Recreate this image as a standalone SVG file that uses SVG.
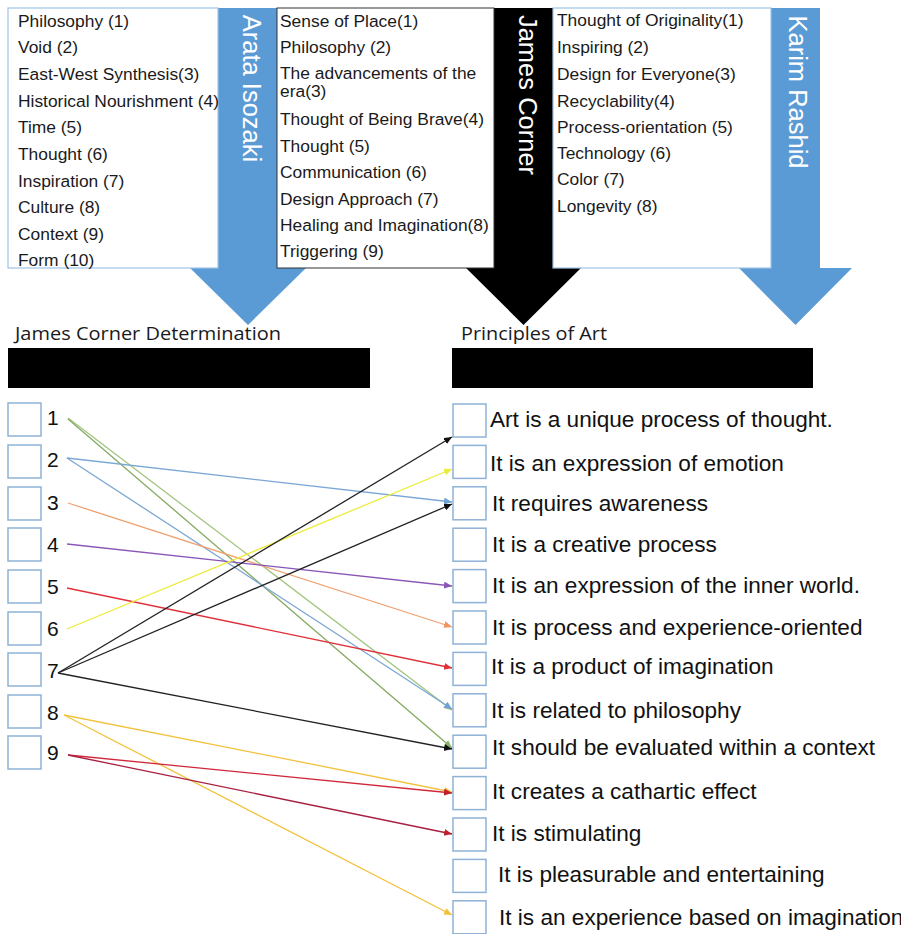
<svg xmlns="http://www.w3.org/2000/svg" width="901" height="934" viewBox="0 0 901 934">
<style>
.bg{fill:#fff}
.arrowB{fill:#5b9bd5}
.arrowK{fill:#000}
.boxL{fill:#fff;stroke:#9dc3e6;stroke-width:1.2}
.boxM{fill:#fff;stroke:#333;stroke-width:1}
.t{font-family:"Liberation Sans",Arial,sans-serif;font-size:17.4px;fill:#1a1a1a}
.vt{font-family:"Liberation Sans",Arial,sans-serif;font-size:25.5px;fill:#fff}
.hd{font-family:"Open Sans","Noto Sans",sans-serif;font-size:18px;fill:#1a1a1a}
.bar{fill:#000}
.cb{fill:#fff;stroke:#8fb2d6;stroke-width:1.5}
.num{font-family:"Liberation Sans",Arial,sans-serif;font-size:21px;fill:#111}
.pt{font-family:"Liberation Sans",Arial,sans-serif;font-size:22.6px;fill:#111}
.c{fill:none;stroke-width:1.3}
</style>
<defs>
<marker id="mGreen" markerUnits="userSpaceOnUse" markerWidth="9" markerHeight="8" refX="8" refY="3.5" orient="auto"><path d="M0,0 L8,3.5 L0,7 z" fill="#8db06a"/></marker>
<marker id="mBlue" markerUnits="userSpaceOnUse" markerWidth="9" markerHeight="8" refX="8" refY="3.5" orient="auto"><path d="M0,0 L8,3.5 L0,7 z" fill="#6fa3d6"/></marker>
<marker id="mOrange" markerUnits="userSpaceOnUse" markerWidth="9" markerHeight="8" refX="8" refY="3.5" orient="auto"><path d="M0,0 L8,3.5 L0,7 z" fill="#ee9460"/></marker>
<marker id="mPurple" markerUnits="userSpaceOnUse" markerWidth="9" markerHeight="8" refX="8" refY="3.5" orient="auto"><path d="M0,0 L8,3.5 L0,7 z" fill="#8a56b8"/></marker>
<marker id="mRed" markerUnits="userSpaceOnUse" markerWidth="9" markerHeight="8" refX="8" refY="3.5" orient="auto"><path d="M0,0 L8,3.5 L0,7 z" fill="#e0303a"/></marker>
<marker id="mYellow" markerUnits="userSpaceOnUse" markerWidth="9" markerHeight="8" refX="8" refY="3.5" orient="auto"><path d="M0,0 L8,3.5 L0,7 z" fill="#ecec3a"/></marker>
<marker id="mBlack" markerUnits="userSpaceOnUse" markerWidth="9" markerHeight="8" refX="8" refY="3.5" orient="auto"><path d="M0,0 L8,3.5 L0,7 z" fill="#111"/></marker>
<marker id="mGold" markerUnits="userSpaceOnUse" markerWidth="9" markerHeight="8" refX="8" refY="3.5" orient="auto"><path d="M0,0 L8,3.5 L0,7 z" fill="#f2c23c"/></marker>
<marker id="mDRed" markerUnits="userSpaceOnUse" markerWidth="9" markerHeight="8" refX="8" refY="3.5" orient="auto"><path d="M0,0 L8,3.5 L0,7 z" fill="#c0202c"/></marker>
</defs>
<rect class="bg" x="0" y="0" width="901" height="934"/>

<!-- Top arrows -->
<g id="arrow-isozaki">
<polygon class="arrowB" points="218,8 278,8 278,268 306,268 248,325 190,268 218,268"/>
<text class="vt" transform="translate(242.5,88.5) rotate(90)" text-anchor="middle">Arata Isozaki</text>
</g>
<g id="arrow-corner">
<polygon class="arrowK" points="494,8 553,8 553,268 581,268 523.5,325 466,268 494,268"/>
<text class="vt" transform="translate(519,95) rotate(90)" text-anchor="middle">James Corner</text>
</g>
<g id="arrow-rashid">
<polygon class="arrowB" points="771,8 820,8 820,268 852,268 795.5,325 739,268 771,268"/>
<text class="vt" transform="translate(788.5,92) rotate(90)" text-anchor="middle">Karim Rashid</text>
</g>

<!-- Top boxes -->
<g id="box-isozaki">
<rect class="boxL" x="8" y="8" width="210" height="260"/>
<text class="t" x="18" y="27">Philosophy (1)</text>
<text class="t" x="18" y="53">Void (2)</text>
<text class="t" x="18" y="80">East-West Synthesis(3)</text>
<text class="t" x="18" y="107">Historical Nourishment (4)</text>
<text class="t" x="18" y="133">Time (5)</text>
<text class="t" x="18" y="160">Thought (6)</text>
<text class="t" x="18" y="187">Inspiration (7)</text>
<text class="t" x="18" y="213">Culture (8)</text>
<text class="t" x="18" y="240">Context (9)</text>
<text class="t" x="18" y="266">Form (10)</text>
</g>
<g id="box-corner">
<rect class="boxM" x="277" y="8" width="217" height="260"/>
<text class="t" x="280" y="27">Sense of Place(1)</text>
<text class="t" x="280" y="53">Philosophy (2)</text>
<text class="t" x="280" y="78.5">The advancements of the</text>
<text class="t" x="280" y="97">era(3)</text>
<text class="t" x="280" y="125">Thought of Being Brave(4)</text>
<text class="t" x="280" y="152">Thought (5)</text>
<text class="t" x="280" y="178">Communication (6)</text>
<text class="t" x="280" y="205">Design Approach (7)</text>
<text class="t" x="280" y="231">Healing and Imagination(8)</text>
<text class="t" x="280" y="257">Triggering (9)</text>
</g>
<g id="box-rashid">
<rect class="boxL" x="553" y="8" width="218" height="260"/>
<text class="t" x="557" y="26">Thought of Originality(1)</text>
<text class="t" x="557" y="53">Inspiring (2)</text>
<text class="t" x="557" y="80">Design for Everyone(3)</text>
<text class="t" x="557" y="107">Recyclability(4)</text>
<text class="t" x="557" y="133">Process-orientation (5)</text>
<text class="t" x="557" y="159">Technology (6)</text>
<text class="t" x="557" y="185">Color (7)</text>
<text class="t" x="557" y="212">Longevity (8)</text>
</g>

<!-- Headings -->
<g id="head-left">
<text class="hd" x="15" y="340" textLength="266" lengthAdjust="spacingAndGlyphs">James Corner Determination</text>
<rect class="bar" x="8" y="348" width="362" height="40"/>
</g>
<g id="head-right">
<text class="hd" x="461" y="340" textLength="146" lengthAdjust="spacingAndGlyphs">Principles of Art</text>
<rect class="bar" x="452" y="348" width="361" height="40"/>
</g>

<!-- Left items -->
<g id="left-1"><rect class="cb" x="8" y="403" width="33" height="33"/><text class="num" x="47" y="425">1</text></g>
<g id="left-2"><rect class="cb" x="8" y="445" width="33" height="33"/><text class="num" x="47" y="467">2</text></g>
<g id="left-3"><rect class="cb" x="8" y="487" width="33" height="33"/><text class="num" x="47" y="510">3</text></g>
<g id="left-4"><rect class="cb" x="8" y="528" width="33" height="33"/><text class="num" x="47" y="552">4</text></g>
<g id="left-5"><rect class="cb" x="8" y="570" width="33" height="33"/><text class="num" x="47" y="594">5</text></g>
<g id="left-6"><rect class="cb" x="8" y="612" width="33" height="33"/><text class="num" x="47" y="636">6</text></g>
<g id="left-7"><rect class="cb" x="8" y="653" width="33" height="33"/><text class="num" x="47" y="678">7</text></g>
<g id="left-8"><rect class="cb" x="8" y="695" width="33" height="33"/><text class="num" x="47" y="720">8</text></g>
<g id="left-9"><rect class="cb" x="8" y="736" width="33" height="33"/><text class="num" x="47" y="760">9</text></g>

<!-- Right items -->
<g id="right-1"><rect class="cb" x="453" y="404" width="33" height="33"/><text class="pt" x="490" y="427">Art is a unique process of thought.</text></g>
<g id="right-2"><rect class="cb" x="453" y="445.4" width="33" height="33"/><text class="pt" x="490" y="471">It is an expression of emotion</text></g>
<g id="right-3"><rect class="cb" x="453" y="486.8" width="33" height="33"/><text class="pt" x="492" y="511">It requires awareness</text></g>
<g id="right-4"><rect class="cb" x="453" y="528.2" width="33" height="33"/><text class="pt" x="492" y="552">It is a creative process</text></g>
<g id="right-5"><rect class="cb" x="453" y="569.6" width="33" height="33"/><text class="pt" x="492" y="593">It is an expression of the inner world.</text></g>
<g id="right-6"><rect class="cb" x="453" y="611" width="33" height="33"/><text class="pt" x="492" y="635">It is process and experience-oriented</text></g>
<g id="right-7"><rect class="cb" x="453" y="652.4" width="33" height="33"/><text class="pt" x="491" y="674">It is a product of imagination</text></g>
<g id="right-8"><rect class="cb" x="453" y="693.8" width="33" height="33"/><text class="pt" x="491" y="718">It is related to philosophy</text></g>
<g id="right-9"><rect class="cb" x="453" y="735.2" width="33" height="33"/><text class="pt" x="492" y="755">It should be evaluated within a context</text></g>
<g id="right-10"><rect class="cb" x="453" y="776.6" width="33" height="33"/><text class="pt" x="492" y="799">It creates a cathartic effect</text></g>
<g id="right-11"><rect class="cb" x="453" y="818" width="33" height="33"/><text class="pt" x="492" y="841">It is stimulating</text></g>
<g id="right-12"><rect class="cb" x="453" y="859.4" width="33" height="33"/><text class="pt" x="498" y="882">It is pleasurable and entertaining</text></g>
<g id="right-13"><rect class="cb" x="453" y="900.8" width="33" height="33"/><text class="pt" x="499" y="925">It is an experience based on imagination</text></g>

<!-- Connectors -->
<g id="connectors">
<line class="c" x1="68" y1="418" x2="452" y2="710" stroke="#a3c47f" marker-end="url(#mGreen)"/>
<line class="c" x1="68" y1="419" x2="452" y2="748" stroke="#86a964" marker-end="url(#mGreen)"/>
<line class="c" x1="67" y1="458" x2="452" y2="502" stroke="#7ba7d4" marker-end="url(#mBlue)"/>
<line class="c" x1="67" y1="458" x2="452" y2="709" stroke="#7ba7d4" marker-end="url(#mBlue)"/>
<line class="c" x1="68" y1="503" x2="452" y2="627" stroke="#f0a070" marker-end="url(#mOrange)"/>
<line class="c" x1="67" y1="544" x2="452" y2="586" stroke="#8a56b8" marker-end="url(#mPurple)"/>
<line class="c" x1="67" y1="588" x2="452" y2="668" stroke="#e0303a" marker-end="url(#mRed)"/>
<line class="c" x1="67" y1="629" x2="452" y2="469" stroke="#ecec3a" marker-end="url(#mYellow)"/>
<line class="c" x1="58" y1="673" x2="452" y2="437" stroke="#222" marker-end="url(#mBlack)"/>
<line class="c" x1="58" y1="673" x2="452" y2="504" stroke="#222" marker-end="url(#mBlack)"/>
<line class="c" x1="58" y1="673" x2="452" y2="749" stroke="#222" marker-end="url(#mBlack)"/>
<line class="c" x1="64" y1="715" x2="452" y2="792" stroke="#f2c23c" marker-end="url(#mGold)"/>
<line class="c" x1="64" y1="715" x2="452" y2="915" stroke="#f2c23c" marker-end="url(#mGold)"/>
<line class="c" x1="68" y1="755" x2="452" y2="793" stroke="#d0283a" marker-end="url(#mDRed)"/>
<line class="c" x1="68" y1="755" x2="452" y2="834" stroke="#a82040" marker-end="url(#mDRed)"/>
</g>
</svg>
